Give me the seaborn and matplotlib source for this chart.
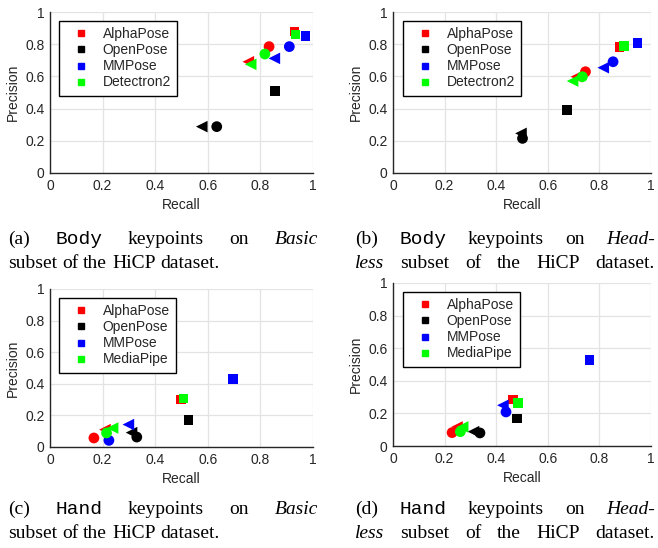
import numpy as np
import pandas as pd
import matplotlib
matplotlib.use('Agg')
import matplotlib.pyplot as plt
import matplotlib.transforms as mtrans
from matplotlib.lines import Line2D
import seaborn as sns

# models per panel
body_models = ['AlphaPose', 'OpenPose', 'MMPose', 'Detectron2']
hand_models = ['AlphaPose', 'OpenPose', 'MMPose', 'MediaPipe']
colors = ['#ff0000', '#000000', '#0000ff', '#00ff00']

# (a) Body / Basic  -- order: AlphaPose, OpenPose, MMPose, Detectron2
a_sq_rec = [0.930, 0.856, 0.972, 0.934]
a_sq_prec = [0.878, 0.509, 0.851, 0.861]
a_ci_rec = [0.833, 0.634, 0.910, 0.817]
a_ci_prec = [0.785, 0.288, 0.785, 0.739]
a_tr_rec = [0.754, 0.577, 0.853, 0.763]
a_tr_prec = [0.691, 0.288, 0.712, 0.675]

# (b) Body / Headless
b_sq_rec = [0.878, 0.675, 0.948, 0.895]
b_sq_prec = [0.781, 0.392, 0.806, 0.789]
b_ci_rec = [0.746, 0.502, 0.853, 0.734]
b_ci_prec = [0.629, 0.215, 0.691, 0.598]
b_tr_rec = [0.711, 0.496, 0.815, 0.696]
b_tr_prec = [0.598, 0.246, 0.654, 0.571]

# (c) Hand / Basic
c_sq_rec = [0.498, 0.526, 0.697, 0.507]
c_sq_prec = [0.300, 0.169, 0.429, 0.307]
c_ci_rec = [0.167, 0.330, 0.224, 0.215]
c_ci_prec = [0.057, 0.063, 0.042, 0.089]
c_tr_rec = [0.209, 0.310, 0.298, 0.238]
c_tr_prec = [0.110, 0.091, 0.142, 0.120]

# (d) Hand / Headless
d_sq_rec = [0.465, 0.480, 0.762, 0.485]
d_sq_prec = [0.285, 0.169, 0.526, 0.263]
d_ci_rec = [0.229, 0.337, 0.438, 0.261]
d_ci_prec = [0.082, 0.080, 0.209, 0.088]
d_tr_rec = [0.248, 0.312, 0.426, 0.270]
d_tr_prec = [0.117, 0.088, 0.250, 0.117]

ticks = [0, 0.2, 0.4, 0.6, 0.8, 1]
tick_labels = ['0', '0.2', '0.4', '0.6', '0.8', '1']


def make_df(models, ci, tr, sq):
    # per model: triangle, then circle, then square (drawing order)
    rows = []
    for i, m in enumerate(models):
        for shape, (rec, prec) in [('triangle', tr), ('circle', ci), ('square', sq)]:
            rows.append({'model': m, 'shape': shape, 'recall': rec[i], 'precision': prec[i]})
    return pd.DataFrame(rows)


sns.set_theme(style='white')
plt.rcParams['font.family'] = ['Liberation Sans', 'DejaVu Sans']

fig = plt.figure(figsize=(6.58, 5.48), dpi=100)
W, H = 658, 548

panels = [
    # left, right, top, bottom in pixels
    ((50, 313, 12, 173), body_models, (a_ci_rec, a_ci_prec), (a_tr_rec, a_tr_prec), (a_sq_rec, a_sq_prec), (59, 21)),
    ((393, 651, 12, 173), body_models, (b_ci_rec, b_ci_prec), (b_tr_rec, b_tr_prec), (b_sq_rec, b_sq_prec), (403, 21)),
    ((50, 313, 289, 447), hand_models, (c_ci_rec, c_ci_prec), (c_tr_rec, c_tr_prec), (c_sq_rec, c_sq_prec), (59, 298)),
    ((393, 651, 283, 446), hand_models, (d_ci_rec, d_ci_prec), (d_tr_rec, d_tr_prec), (d_sq_rec, d_sq_prec), (403, 292)),
]

dark = '#262626'
for (l, r, t, b), models, ci, tr, sq, (lx, ly) in panels:
    ax = fig.add_axes([l / W, 1 - b / H, (r - l) / W, (b - t) / H])
    df = make_df(models, ci, tr, sq)
    sns.scatterplot(data=df, x='recall', y='precision', hue='model', style='shape',
                    size='shape', palette=dict(zip(models, colors)),
                    markers={'circle': 'o', 'triangle': '<', 'square': 's'},
                    sizes={'circle': 60, 'triangle': 70, 'square': 48},
                    linewidth=0, legend=False, ax=ax, zorder=3)
    ax.set_xlim(0, 1)
    ax.set_ylim(0, 1)
    ax.set_xticks(ticks)
    ax.set_xticklabels(tick_labels)
    ax.set_yticks(ticks)
    ax.set_yticklabels(tick_labels)
    ax.grid(True, color='#e3e3e3', lw=0.9)
    ax.set_axisbelow(True)
    for s in ['top', 'right']:
        ax.spines[s].set_visible(False)
    for s in ['left', 'bottom']:
        ax.spines[s].set_color(dark)
        ax.spines[s].set_linewidth(1.0)
    ax.tick_params(direction='in', length=3, width=0.8, colors=dark, labelsize=10, pad=4)
    ax.set_xlabel('Recall', fontsize=10, color=dark, labelpad=4)
    ax.set_ylabel('Precision', fontsize=10, color=dark, labelpad=4)
    handles = [Line2D([], [], ls='none', marker='s', ms=4.5, color=c) for c in colors]
    ax.legend(handles, models, loc='upper left',
              bbox_to_anchor=((lx - l) / (r - l), (b - ly) / (b - t)),
              borderaxespad=0, fontsize=10, frameon=True, fancybox=False,
              edgecolor='black', framealpha=1, handlelength=2.3,
              handletextpad=0.4, labelspacing=0.15, borderpad=0.45)

# captions (pixel coordinates)
ident = mtrans.IdentityTransform()
renderer = fig.canvas.get_renderer()
fonts = {
    'rm': dict(family='Liberation Serif'),
    'it': dict(family='Liberation Serif', style='italic'),
    'tt': dict(family='Liberation Mono'),
}


def caption_line(words, x0, x1, y, justify=True):
    objs = []
    for w, st in words:
        objs.append(fig.text(0, 0, w, fontsize=14, color='black', va='baseline',
                             ha='left', transform=ident, **fonts[st]))
    widths = [o.get_window_extent(renderer).width for o in objs]
    if justify and len(objs) > 1:
        gap = (x1 - x0 - sum(widths)) / (len(objs) - 1)
    else:
        gap = 4.9
    x = x0
    for o, w in zip(objs, widths):
        o.set_position((x, H - y))
        x += w + gap


for lab, part, x0, x1, yb in [('(a)', 'Body', 8, 318, 244), ('(c)', 'Hand', 8, 318, 514)]:
    caption_line([(lab, 'rm'), (part, 'tt'), ('keypoints', 'rm'), ('on', 'rm'), ('Basic', 'it')], x0, x1, yb)
    caption_line([('subset', 'rm'), ('of', 'rm'), ('the', 'rm'), ('HiCP', 'rm'), ('dataset.', 'rm')],
                 x0, x1, yb + 24, justify=False)

for lab, part, x0, x1, yb in [('(b)', 'Body', 355, 655, 244), ('(d)', 'Hand', 355, 655, 514)]:
    caption_line([(lab, 'rm'), (part, 'tt'), ('keypoints', 'rm'), ('on', 'rm'), ('Head-', 'it')], x0, x1, yb)
    caption_line([('less', 'it'), ('subset', 'rm'), ('of', 'rm'), ('the', 'rm'), ('HiCP', 'rm'), ('dataset.', 'rm')],
                 x0, x1, yb + 24)

fig.savefig('out.png', dpi=100)
